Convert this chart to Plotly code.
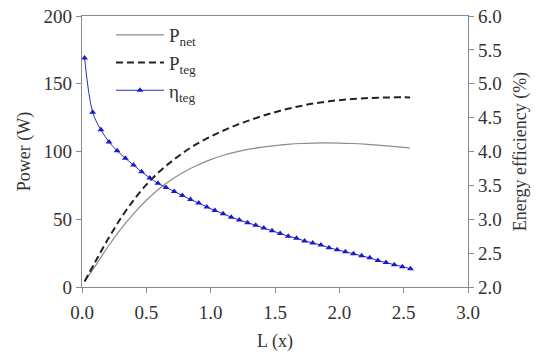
import plotly.graph_objects as go

# Power curves
L_pow = [0.02, 0.1, 0.2, 0.3, 0.4, 0.5, 0.6, 0.7, 0.8, 0.9, 1.0, 1.1, 1.2, 1.3, 1.4,
         1.5, 1.6, 1.7, 1.8, 1.9, 2.0, 2.1, 2.2, 2.3, 2.4, 2.5, 2.55]
P_net = [4, 15, 29.5, 42.5, 54, 64, 72.5, 79.5, 85.3, 90, 94, 97.2, 99.7, 101.7, 103.2, 104.4,
         105.3, 105.9, 106.2, 106.3, 106.2, 105.9, 105.4, 104.7, 103.9, 103.1, 102.6]
P_teg = [4, 18, 35, 50.5, 64, 75.5, 85, 93, 100, 106, 111, 115.5, 119.5, 123, 126.2, 129,
         131.5, 133.6, 135.4, 136.8, 137.9, 138.7, 139.3, 139.7, 139.9, 140, 139.9]

# Efficiency curve
L_eff = [0.020, 0.083, 0.147, 0.210, 0.273, 0.337, 0.400, 0.463, 0.527, 0.590, 0.653,
         0.717, 0.780, 0.843, 0.907, 0.970, 1.033, 1.097, 1.160, 1.223, 1.287, 1.350,
         1.413, 1.477, 1.540, 1.603, 1.667, 1.730, 1.793, 1.857, 1.920, 1.983, 2.047,
         2.110, 2.173, 2.237, 2.300, 2.363, 2.427, 2.490, 2.553]
eta_teg = [5.38, 4.58, 4.32, 4.14, 4.01, 3.90, 3.80, 3.70, 3.61, 3.53, 3.47, 3.41, 3.35,
           3.29, 3.24, 3.18, 3.13, 3.08, 3.03, 2.99, 2.95, 2.91, 2.87, 2.83, 2.79, 2.75,
           2.72, 2.68, 2.65, 2.62, 2.58, 2.55, 2.52, 2.49, 2.46, 2.43, 2.39, 2.36, 2.33,
           2.30, 2.27]

x_ticks = [0.0, 0.5, 1.0, 1.5, 2.0, 2.5, 3.0]
y_ticks = [0, 50, 100, 150, 200]
y2_ticks = [2.0, 2.5, 3.0, 3.5, 4.0, 4.5, 5.0, 5.5, 6.0]

FONT = "Liberation Serif"
AX = "#8a8a8a"
TXT = "#333333"

fig = go.Figure()
fig.add_trace(go.Scatter(x=L_pow, y=P_net, mode="lines", name="P<sub>net</sub>",
                         line=dict(color="#8c8c8c", width=1.2), line_shape="spline"))
fig.add_trace(go.Scatter(x=L_pow, y=P_teg, mode="lines", name="P<sub>teg</sub>",
                         line=dict(color="#222222", width=2, dash="7px,4px"), line_shape="spline"))
fig.add_trace(go.Scatter(x=L_eff, y=eta_teg, mode="lines+markers", name="η<sub>teg</sub>",
                         yaxis="y2", line=dict(color="#2233bb", width=1), line_shape="spline",
                         marker=dict(symbol="triangle-up", size=6, color="#1a1acc")))

axis_common = dict(showgrid=False, zeroline=False, showline=True, linecolor=AX, linewidth=1.2,
                   ticks="outside", ticklen=5, tickcolor=AX, automargin=False,
                   tickfont=dict(family=FONT, size=19, color=TXT))

fig.update_layout(
    width=540, height=356,
    margin=dict(l=82, r=72, t=16, b=69),
    plot_bgcolor="white", paper_bgcolor="white",
    font=dict(family=FONT, color=TXT),
    xaxis=dict(range=[0, 3], tickvals=x_ticks, ticktext=[f"{v:.1f}" for v in x_ticks],
               title=dict(text="L (x)", font=dict(family=FONT, size=18, color=TXT), standoff=12),
               ticklabelstandoff=3, mirror=True, **axis_common),
    yaxis=dict(range=[0, 200], tickvals=y_ticks,
               title=dict(text="Power (W)", font=dict(family=FONT, size=18, color=TXT), standoff=8),
               **axis_common),
    yaxis2=dict(range=[2, 6], tickvals=y2_ticks, ticktext=[f"{v:.1f}" for v in y2_ticks],
                overlaying="y", side="right",
                title=dict(text="Energy efficiency (%)", font=dict(family=FONT, size=18, color=TXT),
                           standoff=12),
                **axis_common),
    legend=dict(x=0.075, y=1.0, xanchor="left", yanchor="top", bgcolor="rgba(0,0,0,0)",
                itemwidth=48, font=dict(family=FONT, size=19, color=TXT), tracegroupgap=0),
    showlegend=True,
)

fig.write_html("out.html")
